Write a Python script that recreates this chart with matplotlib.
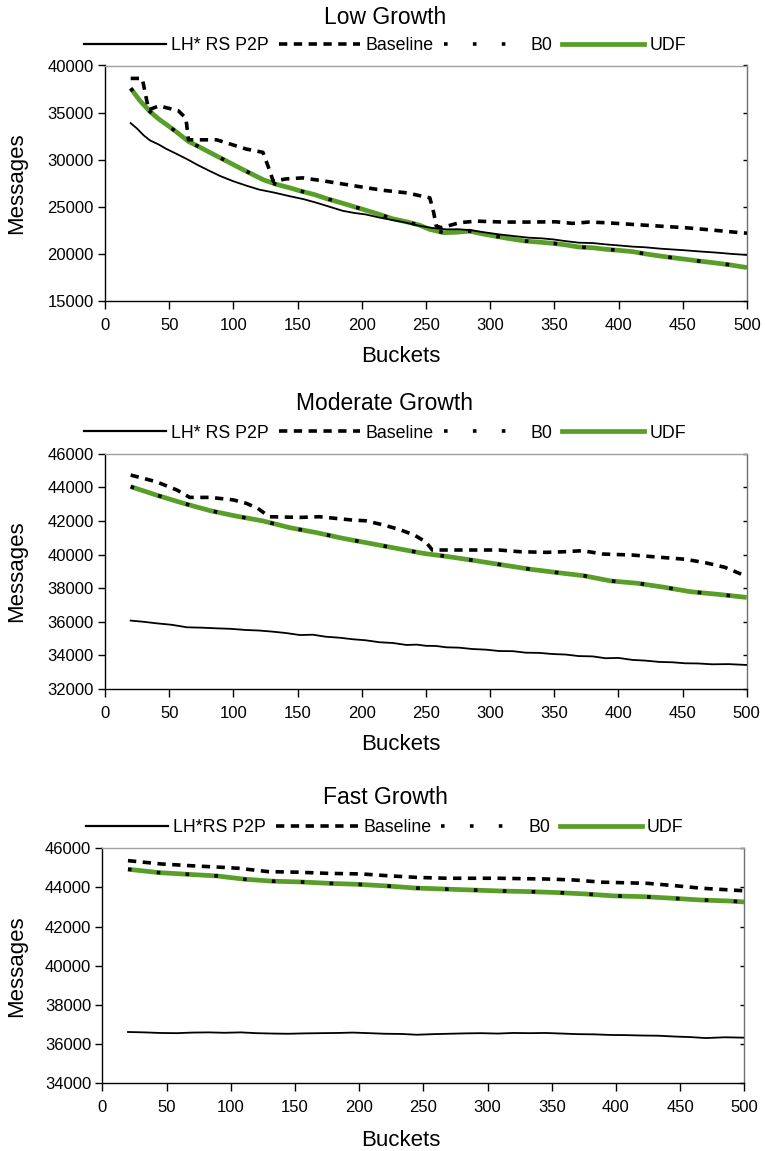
import matplotlib.pyplot as plt
from matplotlib.lines import Line2D

plt.rcParams["font.family"] = ["Liberation Sans", "DejaVu Sans"]

# Low growth
low_lh_x = [20, 25, 30, 35, 42, 48, 56, 64, 72, 82, 90, 100, 110, 120, 132, 144, 155, 165, 175,
            185, 194, 203, 214, 224, 235, 245, 255, 266, 275, 284, 295, 307, 318, 330, 340, 349,
            359, 369, 380, 390, 400, 411, 421, 432, 442, 452, 464, 476, 488, 500]
low_lh_y = [33880, 33300, 32600, 32050, 31600, 31130, 30600, 30050, 29450, 28770, 28250, 27710,
            27250, 26830, 26500, 26120, 25800, 25420, 25000, 24580, 24350, 24190, 23850, 23590,
            23300, 22980, 22750, 22600, 22620, 22530, 22300, 22070, 21900, 21720, 21650, 21540,
            21350, 21190, 21150, 21010, 20900, 20770, 20700, 20560, 20470, 20380, 20250, 20140,
            20000, 19890]
low_udf_x = [20, 27, 35, 42, 50, 57, 65, 75, 85, 95, 105, 114, 123, 133, 144, 153, 163, 173, 184,
             193, 203, 214, 224, 235, 245, 253, 264, 274, 284, 295, 306, 316, 327, 338, 349, 359,
             369, 380, 390, 400, 411, 421, 432, 442, 452, 462, 473, 486, 500]
low_udf_y = [37580, 36300, 35110, 34300, 33520, 32800, 31940, 31250, 30530, 29830, 29120, 28500,
             27890, 27400, 27010, 26650, 26300, 25850, 25420, 25050, 24640, 24180, 23730, 23400,
             23050, 22600, 22250, 22300, 22420, 22100, 21830, 21600, 21370, 21250, 21120, 20950,
             20730, 20650, 20490, 20380, 20240, 20000, 19780, 19600, 19430, 19250, 19080, 18850,
             18550]
low_b0_x = list(low_udf_x)
low_b0_y = list(low_udf_y)
low_base_x = [20, 29, 34, 42, 57, 63, 65, 74, 87, 110, 123, 128, 131, 141, 154, 172, 193, 216,
              235, 253, 256, 258, 262, 276, 289, 310, 330, 351, 364, 377, 390, 411, 432, 452,
              473, 495, 500]
low_base_y = [38630, 38630, 35290, 35710, 35210, 34410, 32110, 32110, 32110, 31130, 30780, 28940,
              27710, 27960, 28070, 27710, 27250, 26760, 26480, 25950, 24370, 22950, 22780, 23310,
              23480, 23380, 23380, 23410, 23240, 23380, 23310, 23130, 22950, 22780, 22530, 22250,
              22200]

# Moderate growth
mod_lh_x = [20, 30, 40, 52, 64, 75, 87, 98, 110, 120, 131, 141, 152, 162, 172, 183, 193, 203, 214,
            224, 235, 243, 250, 258, 266, 276, 286, 297, 307, 318, 328, 338, 349, 359, 369, 380,
            390, 400, 411, 421, 432, 442, 452, 462, 473, 486, 500]
mod_lh_y = [36070, 36000, 35910, 35820, 35670, 35650, 35610, 35580, 35510, 35480, 35410, 35330,
            35210, 35230, 35110, 35050, 34960, 34900, 34780, 34740, 34620, 34640, 34570, 34560,
            34480, 34460, 34380, 34340, 34260, 34250, 34160, 34150, 34080, 34050, 33960, 33940,
            33830, 33850, 33730, 33690, 33610, 33590, 33530, 33520, 33470, 33480, 33430]
mod_udf_x = [20, 40, 61, 82, 102, 123, 144, 165, 185, 206, 227, 248, 268, 289, 310, 332, 353, 373,
             394, 415, 436, 456, 478, 500]
mod_udf_y = [44040, 43540, 43050, 42610, 42290, 42000, 41600, 41300, 40970, 40670, 40370, 40070,
             39870, 39630, 39380, 39120, 38920, 38740, 38430, 38290, 38050, 37790, 37630, 37450]
mod_b0_x = list(mod_udf_x)
mod_b0_y = list(mod_udf_y)
mod_base_x = [20, 40, 56, 66, 82, 100, 110, 119, 128, 152, 167, 193, 203, 217, 229, 241, 250,
              255, 268, 297, 307, 323, 344, 359, 372, 388, 411, 432, 452, 468, 483, 500]
mod_base_y = [44730, 44330, 43840, 43400, 43400, 43250, 43050, 42750, 42250, 42210, 42250, 42050,
              42010, 41760, 41500, 41160, 40750, 40270, 40270, 40270, 40270, 40170, 40130, 40170,
              40230, 40030, 39970, 39840, 39720, 39510, 39240, 38700]

# Fast growth
fast_lh_x = [20, 33, 45, 58, 70, 83, 95, 108, 120, 133, 145, 158, 170, 183, 195, 208, 220, 233,
             245, 258, 270, 283, 295, 308, 320, 333, 345, 358, 370, 383, 395, 408, 420, 433, 445,
             458, 470, 485, 500]
fast_lh_y = [36620, 36600, 36570, 36560, 36590, 36600, 36580, 36600, 36560, 36540, 36530, 36550,
             36560, 36570, 36590, 36560, 36530, 36520, 36480, 36510, 36530, 36550, 36560, 36540,
             36570, 36560, 36570, 36540, 36510, 36500, 36470, 36460, 36440, 36430, 36390, 36360,
             36310, 36350, 36330]
fast_udf_x = [20, 44, 67, 89, 111, 133, 155, 177, 199, 221, 244, 266, 288, 310, 332, 354, 376,
              398, 422, 444, 466, 488, 500]
fast_udf_y = [44930, 44760, 44670, 44590, 44420, 44320, 44280, 44210, 44160, 44080, 43970, 43920,
              43870, 43820, 43790, 43740, 43670, 43570, 43530, 43450, 43360, 43310, 43260]
fast_b0_x = list(fast_udf_x)
fast_b0_y = list(fast_udf_y)
fast_base_x = [20, 46, 69, 93, 106, 129, 152, 176, 202, 222, 246, 269, 308, 347, 368, 389, 425,
               446, 467, 500]
fast_base_y = [45370, 45200, 45110, 45030, 44980, 44810, 44780, 44720, 44690, 44600, 44510, 44470,
               44470, 44430, 44380, 44270, 44210, 44090, 43960, 43830]

panels = [
    ("Low Growth", "LH* RS P2P", (low_lh_x, low_lh_y), (low_base_x, low_base_y),
     (low_b0_x, low_b0_y), (low_udf_x, low_udf_y), (15000, 40000, 5000)),
    ("Moderate Growth", "LH* RS P2P", (mod_lh_x, mod_lh_y), (mod_base_x, mod_base_y),
     (mod_b0_x, mod_b0_y), (mod_udf_x, mod_udf_y), (32000, 46000, 2000)),
    ("Fast Growth", "LH*RS P2P", (fast_lh_x, fast_lh_y), (fast_base_x, fast_base_y),
     (fast_b0_x, fast_b0_y), (fast_udf_x, fast_udf_y), (34000, 46000, 2000)),
]

W, H = 765, 1151
# axes boxes in pixels: left, right, top, bottom
boxes = [(105, 747, 65.5, 301), (105, 746.7, 453.7, 689), (102.3, 744.3, 848.3, 1083.3)]
title_y = [17, 403, 798]
legend_y = [46, 433, 828]
xlabel_y = [356, 745, 1140]

green = "#5A9E2A"
fig = plt.figure(figsize=(W / 100, H / 100), dpi=100)

for i, (title, lhname, lh, base, b0, udf, yr) in enumerate(panels):
    l, r, t, b = boxes[i]
    ax = fig.add_axes([l / W, 1 - b / H, (r - l) / W, (b - t) / H])
    ax.plot(udf[0], udf[1], color=green, lw=3.4, solid_capstyle="butt", zorder=2)
    ax.plot(lh[0], lh[1], color="black", lw=1.3, zorder=3)
    ax.plot(base[0], base[1], color="black", lw=2.6, dashes=(2.3, 1.8), dash_capstyle="butt",
            zorder=4)
    ax.plot(b0[0], b0[1], color="black", lw=2.6, dashes=(1, 7), dash_capstyle="butt", zorder=5)
    ax.set_xlim(0, 500)
    ax.set_ylim(yr[0], yr[1])
    ax.set_xticks(range(0, 501, 50))
    ax.set_yticks(range(yr[0], yr[1] + 1, yr[2]))
    ax.tick_params(axis="x", direction="out", length=6, width=1, labelsize=12, pad=6)
    ax.tick_params(axis="y", direction="out", length=5, width=1, labelsize=12, pad=3)
    # faint inner ticks on the right spine
    ax.tick_params(axis="y", which="major", right=True, labelright=False)
    for tk in ax.yaxis.get_major_ticks():
        tk.tick2line.set_marker(0)
        tk.tick2line.set_markersize(3)
        tk.tick2line.set_color("#c8c8c8")
    ax.spines["top"].set_color("#a0a0a0")
    ax.spines["right"].set_color("#707070")
    for side in ("left", "bottom"):
        ax.spines[side].set_color("black")
    ax.spines[:].set_linewidth(1)

    handles = [
        Line2D([], [], color="black", lw=1.6),
        Line2D([], [], color="black", lw=2.6, dashes=(2.3, 1.8), dash_capstyle="butt"),
        Line2D([], [], color="black", lw=2.6, dashes=(1, 7), dash_capstyle="butt"),
        Line2D([], [], color=green, lw=3.4),
    ]
    fig.legend(handles, [lhname, "Baseline", "B0", "UDF"], loc="center",
               bbox_to_anchor=(385 / W, 1 - legend_y[i] / H), ncol=4, frameon=False,
               fontsize=12.8, handlelength=4.6, handletextpad=0.3, columnspacing=0.55,
               borderpad=0)
    fig.text(385 / W, 1 - title_y[i] / H, title, ha="center", va="center", fontsize=16.5)
    fig.text(401 / W, 1 - xlabel_y[i] / H, "Buckets", ha="center", va="center", fontsize=16)
    fig.text(17 / W, 1 - (t + b) / 2 / H, "Messages", ha="center", va="center", fontsize=16,
             rotation=90)

plt.savefig("out.png", dpi=100)
